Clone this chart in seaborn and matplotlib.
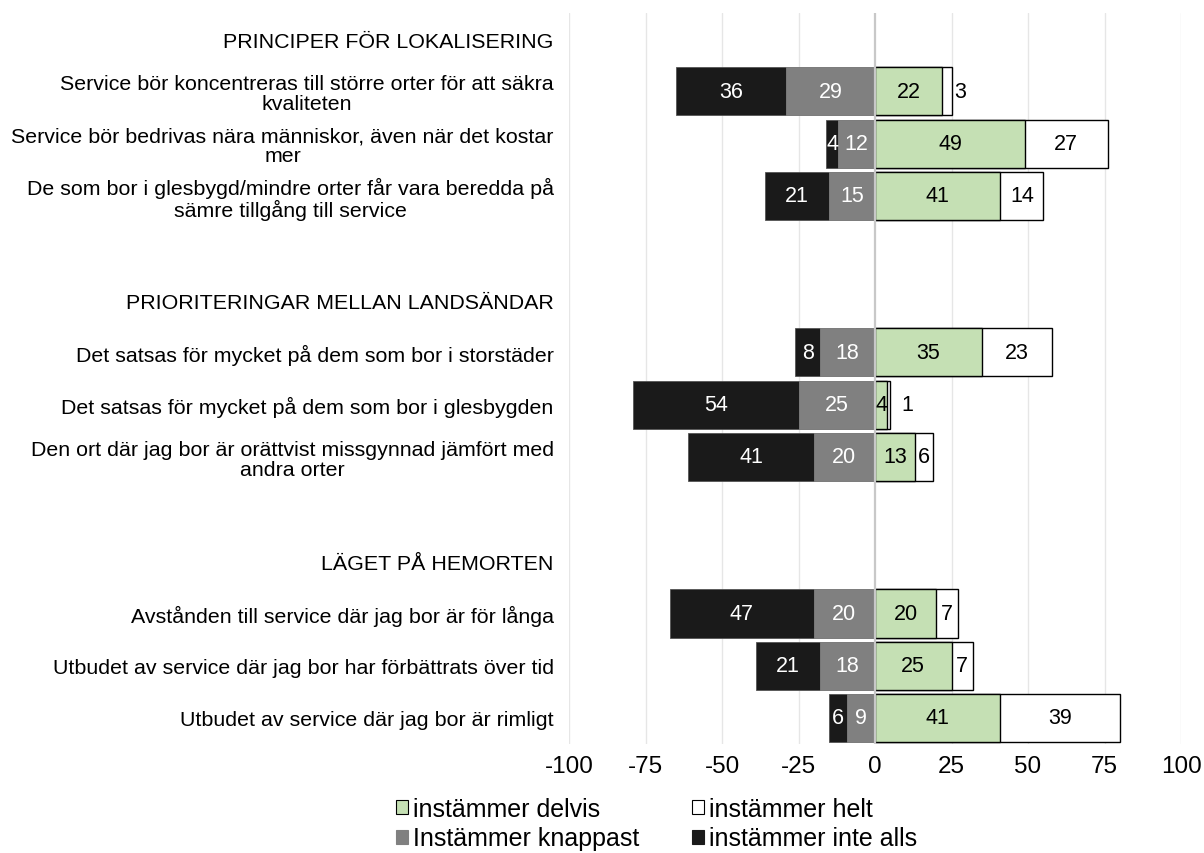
import matplotlib
matplotlib.use('Agg')
import matplotlib.pyplot as plt
from matplotlib.patches import Patch
import seaborn as sns
import pandas as pd
import numpy as np

# rows (headers + statements), blanks are spacer rows
headers = ['PRINCIPER FÖR LOKALISERING', 'PRIORITERINGAR MELLAN LANDSÄNDAR', 'LÄGET PÅ HEMORTEN']
items = [
    'Service bör koncentreras till större orter för att säkra\nkvaliteten',
    'Service bör bedrivas nära människor, även när det kostar\nmer',
    'De som bor i glesbygd/mindre orter får vara beredda på\nsämre tillgång till service',
    'Det satsas för mycket på dem som bor i storstäder',
    'Det satsas för mycket på dem som bor i glesbygden',
    'Den ort där jag bor är orättvist missgynnad jämfört med\nandra orter',
    'Avstånden till service där jag bor är för långa',
    'Utbudet av service där jag bor har förbättrats över tid',
    'Utbudet av service där jag bor är rimligt',
]
inte_alls = [36, 4, 21, 8, 54, 41, 47, 21, 6]
knappast = [29, 12, 15, 18, 25, 20, 20, 18, 9]
delvis = [22, 49, 41, 35, 4, 13, 20, 25, 41]
helt = [3, 27, 14, 23, 1, 6, 7, 7, 39]

rows = [headers[0]] + items[0:3] + [' '] + [headers[1]] + items[3:6] + ['  '] + [headers[2]] + items[6:9]

GREEN = '#c5e0b4'
GRAY = '#808080'
BLACK = '#1a1a1a'
WHITE = '#ffffff'

df = pd.DataFrame({'label': items, 'inte_alls': inte_alls, 'knappast': knappast,
                   'delvis': delvis, 'helt': helt})
df['pos_all'] = df['delvis'] + df['helt']
df['neg_all'] = -(df['inte_alls'] + df['knappast'])
df['neg_knapp'] = -df['knappast']

sns.set_theme(style='white')
plt.rcParams['font.family'] = ['Liberation Sans', 'DejaVu Sans']
plt.rcParams['axes.unicode_minus'] = False
plt.rcParams['text.color'] = 'black'
plt.rcParams['xtick.color'] = 'black'
plt.rcParams['ytick.color'] = 'black'

fig = plt.figure(figsize=(12.04, 8.54), dpi=100)
ax = fig.add_axes([0.4726, 0.1276, 0.5083, 0.856])

for v in range(-100, 101, 25):
    if v != 0:
        ax.axvline(v, color='#e6e6e6', lw=1, zorder=0)

bw = 0.92
sns.barplot(data=df, x='pos_all', y='label', order=rows, color=WHITE, saturation=1,
            edgecolor='black', linewidth=1, width=bw, errorbar=None, ax=ax, zorder=2)
sns.barplot(data=df, x='delvis', y='label', order=rows, color=GREEN, saturation=1,
            edgecolor='black', linewidth=1, width=bw, errorbar=None, ax=ax, zorder=3)
sns.barplot(data=df, x='neg_all', y='label', order=rows, color=BLACK, saturation=1,
            edgecolor='#555555', linewidth=0.6, width=bw, errorbar=None, ax=ax, zorder=2)
sns.barplot(data=df, x='neg_knapp', y='label', order=rows, color=GRAY, saturation=1,
            edgecolor=GRAY, linewidth=0.6, width=bw, errorbar=None, ax=ax, zorder=3)

ax.axvline(0, color='#c8c8c8', lw=1.6, zorder=4)

# value labels
fs = 15.5
for i, lab in enumerate(items):
    y = rows.index(lab)
    a, k, d, h = inte_alls[i], knappast[i], delvis[i], helt[i]
    ax.text(-k - a / 2, y, str(a), ha='center', va='center', color='white', fontsize=fs, zorder=5)
    ax.text(-k / 2, y, str(k), ha='center', va='center', color='white', fontsize=fs, zorder=5)
    ax.text(d / 2, y, str(d), ha='center', va='center', color='black', fontsize=fs, zorder=5)
    if h <= 3:
        ax.text(d + h + 1.0 + (2.5 if h < 2 else 0), y, str(h), ha='left', va='center',
                color='black', fontsize=fs, zorder=5)
    else:
        ax.text(d + h / 2, y, str(h), ha='center', va='center', color='black', fontsize=fs, zorder=5)

ax.set_xlim(-100, 100)
ax.set_ylim(13.5, -0.5)
ax.set_xticks(range(-100, 101, 25))
ax.set_yticks(range(len(rows)), labels=rows, multialignment='center', linespacing=1.05)
ax.tick_params(axis='y', length=0, pad=11, labelsize=15.4)
ax.tick_params(axis='x', length=0, pad=8, labelsize=17.5)
ax.set_xlabel('')
ax.set_ylabel('')
for s in ax.spines.values():
    s.set_visible(False)

handles = [Patch(facecolor=GREEN, edgecolor='black', lw=0.8, label='instämmer delvis'),
           Patch(facecolor=GRAY, edgecolor=GRAY, lw=0.8, label='Instämmer knappast'),
           Patch(facecolor=WHITE, edgecolor='black', lw=0.8, label='instämmer helt'),
           Patch(facecolor=BLACK, edgecolor=BLACK, lw=0.8, label='instämmer inte alls')]
fig.legend(handles=handles, ncol=2, loc='upper left', bbox_to_anchor=(396 / 1204, 1 - 798 / 854),
           frameon=False, fontsize=18, handlelength=0.48, handleheight=0.48,
           handletextpad=0.2, columnspacing=2.1, labelspacing=0.22, borderpad=0,
           borderaxespad=0)

fig.savefig('out.png', dpi=100)
